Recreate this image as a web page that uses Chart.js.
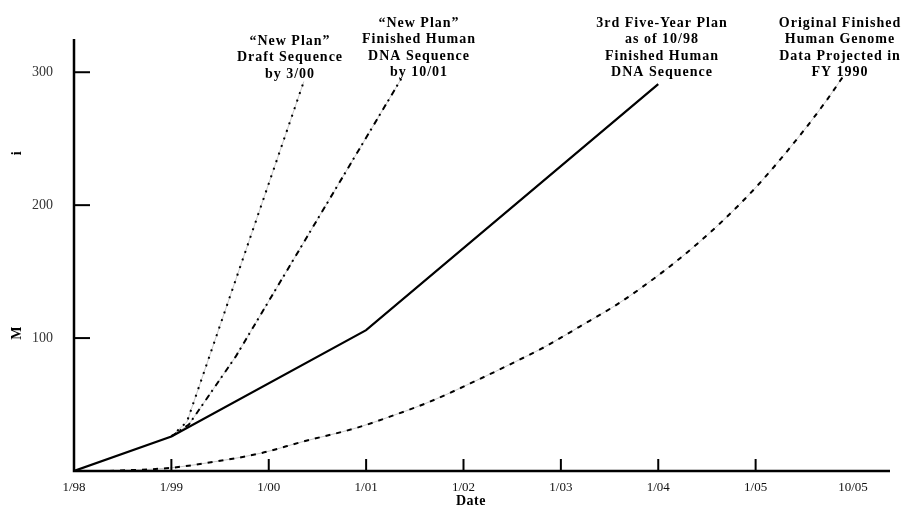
<!DOCTYPE html>
<html><head><meta charset="utf-8">
<script src="https://cdn.jsdelivr.net/npm/chart.js@4"></script>
<style>html,body{margin:0;padding:0;background:#fff}#wrap{width:903px;height:509px;position:relative}</style>
</head><body><div id="wrap"><canvas id="c"></canvas></div>
<script>
// x values are years after 1/98
const xTickLabels = ["1/98","1/99","1/00","1/01","1/02","1/03","1/04","1/05","10/05"];
const yTickValues = [100, 200, 300];

const planYears = [0, 1, 3, 6];
const planValues = [0, 26, 106, 291];

const draftYears = [1, 1.16, 2.36];
const draftValues = [26, 37, 293];

const finishedYears = [1, 1.18, 1.66, 3.36];
const finishedValues = [26, 35, 86, 295];

const originalYears = [0.36, 0.98, 1.36, 1.93, 2.34, 2.90, 3.21, 3.65, 4.16, 4.50, 4.85, 5.19, 5.57, 5.81, 6.19, 6.63, 7.01, 7.45, 7.74, 7.90];
const originalValues = [0, 2.3, 6, 13.6, 21.9, 32.4, 40, 52, 69, 81, 94, 108.5, 125, 137, 158, 186, 214, 252, 280, 297];

const labelPlan = ["3rd Five-Year Plan", "as of 10/98", "Finished Human", "DNA Sequence"];
const labelDraft = ["\u201CNew Plan\u201D", "Draft Sequence", "by 3/00"];
const labelFinished = ["\u201CNew Plan\u201D", "Finished Human", "DNA Sequence", "by 10/01"];
const labelOriginal = ["Original Finished", "Human Genome", "Data Projected in", "FY 1990"];

function pts(xs, ys){ return xs.map((x,i)=>({x:x, y:ys[i]})); }

const SERIF = '"Liberation Serif", "Times New Roman", serif';

const decor = {
  id: 'decor',
  afterDraw(chart){
    const ctx = chart.ctx, xs = chart.scales.x, ys = chart.scales.y, ca = chart.chartArea;
    ctx.save();
    // axes
    ctx.strokeStyle = '#000'; ctx.lineWidth = 2.5; ctx.lineCap = 'butt';
    ctx.beginPath(); ctx.moveTo(ca.left, ca.top); ctx.lineTo(ca.left, ca.bottom); ctx.lineTo(ca.right, ca.bottom); ctx.stroke();
    // inward ticks
    ctx.lineWidth = 2;
    yTickValues.forEach(v => { const p = ys.getPixelForValue(v); ctx.beginPath(); ctx.moveTo(ca.left, p); ctx.lineTo(ca.left + 16, p); ctx.stroke(); });
    for (let i = 1; i <= 7; i++) { const p = xs.getPixelForValue(i); ctx.beginPath(); ctx.moveTo(p, ca.bottom); ctx.lineTo(p, ca.bottom - 12); ctx.stroke(); }
    // axis title fragments
    ctx.fillStyle = '#000';
    ctx.font = 'bold 14px ' + SERIF;
    ctx.textAlign = 'center'; ctx.textBaseline = 'middle';
    if ('letterSpacing' in ctx) ctx.letterSpacing = '0.5px';
    ctx.fillText('Date', 471, 501);
    [['i', 153], ['M', 333]].forEach(([t, y]) => {
      ctx.save(); ctx.translate(17, y); ctx.rotate(-Math.PI / 2); ctx.fillText(t, 0, 0); ctx.restore();
    });
    // annotations
    ctx.font = 'bold 14px ' + SERIF;
    if ('letterSpacing' in ctx) ctx.letterSpacing = '1px';
    const block = (lines, cx, y0) => lines.forEach((l, i) => ctx.fillText(l, cx, y0 + i * 16.6));
    block(labelDraft, 290, 41);
    block(labelFinished, 419, 23);
    block(labelPlan, 662, 23);
    block(labelOriginal, 840, 23);
    ctx.restore();
  }
};

const under = (data) => ({ data, borderColor: '#c8c8c8', borderWidth: 1, pointRadius: 0, tension: 0, order: 5 });

new Chart(document.getElementById('c'), {
  type: 'line',
  data: {
    datasets: [
      { label: '3rd Five-Year Plan', data: pts(planYears, planValues), borderColor: '#000', borderWidth: 2.2, pointRadius: 0, tension: 0, order: 1 },
      under(pts(draftYears, draftValues)),
      { label: 'Draft Sequence', data: pts(draftYears, draftValues), borderColor: '#000', borderWidth: 2, borderDash: [2, 6], pointRadius: 0, tension: 0, order: 1 },
      under(pts(finishedYears, finishedValues)),
      { label: 'Finished by 10/01', data: pts(finishedYears, finishedValues), borderColor: '#000', borderWidth: 2, borderDash: [6, 4, 2, 5], pointRadius: 0, tension: 0, order: 1 },
      Object.assign(under(pts(originalYears, originalValues)), { cubicInterpolationMode: 'monotone' }),
      { label: 'Original FY 1990', data: pts(originalYears, originalValues), borderColor: '#000', borderWidth: 2, borderDash: [5, 6], pointRadius: 0, cubicInterpolationMode: 'monotone', order: 1 }
    ]
  },
  options: {
    responsive: true, maintainAspectRatio: false, animation: false,
    layout: { padding: { left: 0, top: 39, right: 13, bottom: 0 } },
    plugins: { legend: { display: false }, tooltip: { enabled: false } },
    scales: {
      x: {
        type: 'linear', min: 0, max: 8.38,
        border: { display: false },
        grid: { display: false },
        afterFit(s){ s.height = 38; },
        afterBuildTicks(s){ s.ticks = xTickLabels.map((_, i) => ({ value: i })); },
        ticks: { autoSkip: false, maxRotation: 0, padding: 1, color: '#111',
          font: { family: SERIF, size: 13 },
          callback: (v) => xTickLabels[v] }
      },
      y: {
        min: 0, max: 325,
        border: { display: false },
        grid: { display: false },
        afterFit(s){ s.width = 74; },
        afterBuildTicks(s){ s.ticks = yTickValues.map(v => ({ value: v })); },
        ticks: { padding: 13, color: '#333', font: { family: SERIF, size: 14 } }
      }
    }
  },
  plugins: [decor]
});
</script></body></html>
